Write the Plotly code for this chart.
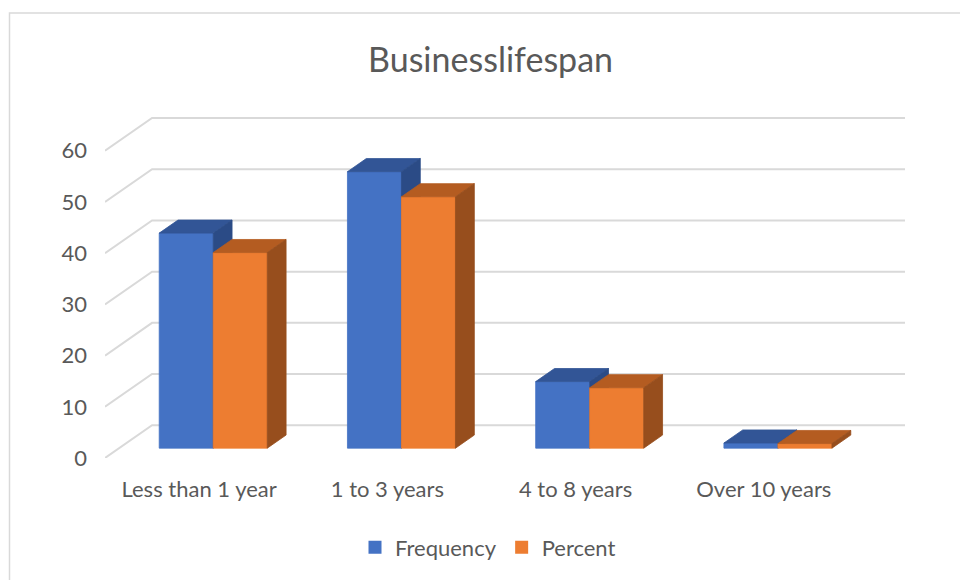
import plotly.graph_objects as go

# ---- data ----
categories = ["Less than 1 year", "1 to 3 years", "4 to 8 years", "Over 10 years"]
frequency = [42, 54, 13, 1]
percent = [38.2, 49.1, 11.8, 0.9]
y_ticks = [0, 10, 20, 30, 40, 50, 60]
series_names = ["Frequency", "Percent"]
title_text = "Businesslifespan"

# ---- styling / pseudo-3D geometry ----
FRONT = ["#4472C4", "#ED7D31"]
TOP = ["#325596", "#B45C21"]
SIDE = ["#2B4B86", "#974E1D"]
GRID = "#D9D9D9"
TXT = "#595959"
FONT = "Lato"

DEPTH_X = 0.25   # x shift of full depth (category units)
DEPTH_Y = 6.4    # y shift of full depth (value units)
Z0, Z1 = 0.30, 0.70  # bar front/back depth fraction
BAR_W = 0.287
X_MIN, X_MAX = -0.5, 3.5 + DEPTH_X
Y_MAX = 66.6


def proj(x, v, z):
    return x + z * DEPTH_X, v + z * DEPTH_Y


def poly(pts, color):
    xs = [p[0] for p in pts] + [pts[0][0]]
    ys = [p[1] for p in pts] + [pts[0][1]]
    return go.Scatter(x=xs, y=ys, mode="lines", fill="toself", fillcolor=color,
                      line=dict(color=color, width=0.8), hoverinfo="skip",
                      showlegend=False)


fig = go.Figure()

# gridlines: back wall + left diagonals
gx, gy = [], []
for v in y_ticks:
    bx, by = proj(X_MIN, v, 1)
    gx += [X_MIN, bx, X_MAX, None]
    gy += [v, by, by, None]
fig.add_trace(go.Scatter(x=gx, y=gy, mode="lines", line=dict(color=GRID, width=2),
                         hoverinfo="skip", showlegend=False))

# bars
for i, cat in enumerate(categories):
    for s, vals in enumerate([frequency, percent]):
        h = vals[i]
        x0 = i - BAR_W + s * BAR_W
        x1 = x0 + BAR_W
        front = [proj(x0, 0, Z0), proj(x1, 0, Z0), proj(x1, h, Z0), proj(x0, h, Z0)]
        top = [proj(x0, h, Z0), proj(x1, h, Z0), proj(x1, h, Z1), proj(x0, h, Z1)]
        side = [proj(x1, 0, Z0), proj(x1, 0, Z1), proj(x1, h, Z1), proj(x1, h, Z0)]
        fig.add_trace(poly(front, FRONT[s]))
        fig.add_trace(poly(top, TOP[s]))
        fig.add_trace(poly(side, SIDE[s]))

# legend entries
for s, name in enumerate(series_names):
    fig.add_trace(go.Scatter(x=[None], y=[None], mode="markers", name=name,
                             marker=dict(symbol="square", size=13, color=FRONT[s])))

fig.update_layout(
    width=960, height=580,
    margin=dict(l=105, r=55, t=117, b=120),
    paper_bgcolor="white", plot_bgcolor="white",
    font=dict(family=FONT, color=TXT, size=22),
    title=dict(text=title_text, font=dict(size=34, color=TXT, family=FONT),
               xref="container", x=0.511, xanchor="center",
               yref="container", y=1 - 60 / 580, yanchor="middle"),
    xaxis=dict(range=[X_MIN, X_MAX], tickvals=list(range(len(categories))),
               ticktext=categories, showgrid=False, zeroline=False, showline=False,
               ticks="", ticklabelstandoff=16, tickfont=dict(size=22, color=TXT)),
    yaxis=dict(range=[0, Y_MAX], tickvals=y_ticks, showgrid=False, zeroline=False,
               showline=False, ticks="", ticklabelstandoff=17,
               tickfont=dict(size=22, color=TXT)),
    legend=dict(orientation="h", x=(488 - 105) / 800, xanchor="center",
                y=(460 - 550) / 343, yanchor="middle",
                font=dict(size=22, color=TXT), itemclick=False),
    shapes=[dict(type="rect", xref="paper", yref="paper",
                 x0=(9.5 - 105) / 800, x1=(980 - 105) / 800,
                 y0=(460 - 600) / 343, y1=(460 - 12.5) / 343,
                 line=dict(color=GRID, width=1.5), layer="below")],
    hovermode=False,
)

fig.write_html("out.html")
